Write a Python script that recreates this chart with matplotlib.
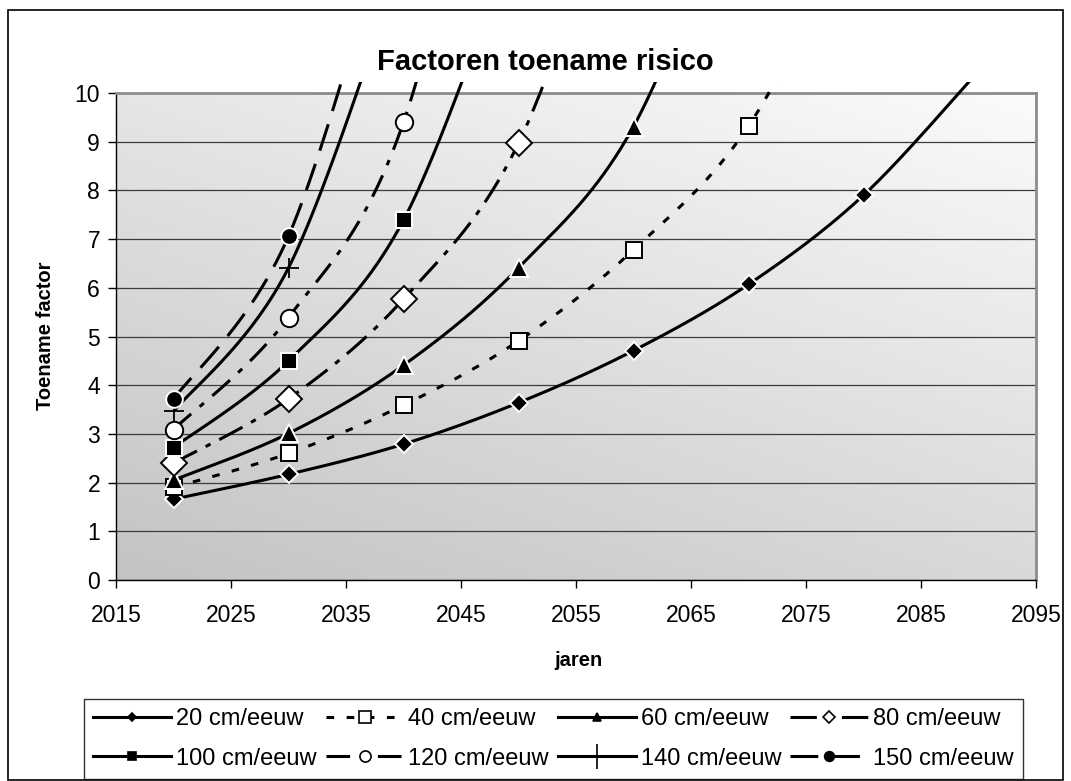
import matplotlib
matplotlib.use("Agg")
import matplotlib.pyplot as plt
import numpy as np
from matplotlib.lines import Line2D
from matplotlib.patches import Rectangle

plt.rcParams["font.family"] = ["Liberation Sans", "DejaVu Sans"]
plt.rcParams["lines.scale_dashes"] = False

# Toename factor per jaar, per zeespiegelstijging
jaren = [2020, 2030, 2040, 2050, 2060, 2070, 2080, 2090]
f20 = [1.66, 2.17, 2.79, 3.64, 4.71, 6.07, 7.90, 10.45]
f40 = [1.90, 2.60, 3.59, 4.91, 6.78, 9.32, 13.8]
f60 = [2.05, 3.01, 4.41, 6.41, 9.31, 15.0]
f80 = [2.40, 3.72, 5.77, 8.97, 15.5]
f100 = [2.72, 4.50, 7.39, 13.4]
f120 = [3.09, 5.39, 9.40, 19.0]
f140 = [3.46, 6.41, 12.8]
f150 = [3.71, 7.06, 14.6]
labels = ["20 cm/eeuw", "40 cm/eeuw", "60 cm/eeuw", "80 cm/eeuw",
          "100 cm/eeuw", "120 cm/eeuw", "140 cm/eeuw", "150 cm/eeuw"]
series = [f20, f40, f60, f80, f100, f120, f140, f150]

# line style, marker, marker size, face, edge, legend marker size
styles = [
    ("-", "D", 9, "black", "white", 4.5),
    ((0, (5.5, 9)), "s", 11.5, "white", "black", 8.5),
    ("-", "^", 13, "black", "white", 6),
    ((0, (19, 7, 4, 7)), "D", 13.2, "white", "black", 6.5),
    ("-", "s", 11.5, "black", "white", 6),
    ((0, (17, 8, 4, 8)), "o", 12.5, "white", "black", 8),
    ("-", "+", 14, "black", "black", 18),
    ((0, (20, 10)), "o", 12, "black", "white", 7),
]


def smooth(xs, ys, n=40):
    # Bezier smoothing through the points (spreadsheet-style)
    p = np.column_stack([xs, ys]).astype(float)
    out = []
    for i in range(len(p) - 1):
        p0 = p[i - 1] if i > 0 else p[i]
        p1, p2 = p[i], p[i + 1]
        p3 = p[i + 2] if i + 2 < len(p) else p[i + 1]
        c1 = p1 + (p2 - p0) / 6
        c2 = p2 - (p3 - p1) / 6
        t = np.linspace(0, 1, n)[:, None]
        seg = (1 - t) ** 3 * p1 + 3 * (1 - t) ** 2 * t * c1 + 3 * (1 - t) * t ** 2 * c2 + t ** 3 * p2
        out.append(seg if i == 0 else seg[1:])
    return np.vstack(out)


W, H = 1071, 781
fig = plt.figure(figsize=(W / 100, H / 100), dpi=100)
ax = fig.add_axes([116 / W, 1 - 580 / H, (1036 - 116) / W, (580 - 93) / H])

# grey gradient plot area
gx, gy = np.meshgrid(np.linspace(0, 1, 200), np.linspace(0, 1, 200))
shade = 0.765 + 0.085 * gx + 0.135 * gy
ax.imshow(np.dstack([shade] * 3), extent=(0, 1, 0, 1), origin="lower",
          transform=ax.transAxes, aspect="auto", zorder=0, interpolation="bilinear")

clip = Rectangle((0, 0), 1, 1.023, transform=ax.transAxes)
handles = []
for vals, lab, (ls, mk, ms, fc, ec, lms) in zip(series, labels, styles):
    xs = jaren[:len(vals)]
    curve = smooth(xs, vals)
    ln, = ax.plot(curve[:, 0], curve[:, 1], color="black", lw=2.2, ls=ls,
                  zorder=3, solid_capstyle="butt", dash_capstyle="butt")
    ln.set_clip_path(clip)
    shown = [(x, v) for x, v in zip(xs, vals) if v <= 10]
    mx, my = zip(*shown)
    mew = 1.3 if mk == "+" else 1.4
    ax.plot(mx, my, ls="none", marker=mk, ms=ms, mfc=fc, mec=ec, mew=mew, zorder=4)
    handles.append(Line2D([], [], color="black", lw=2.2, ls=ls, marker=mk, ms=lms,
                          mfc=fc, mec="black", mew=1.2))

ax.set_xlim(2015, 2095)
ax.set_ylim(0, 10)
ax.set_xticks(range(2015, 2096, 10))
ax.set_yticks(range(0, 11))
ax.yaxis.grid(True, color="#3c3c3c", lw=0.9)
ax.set_axisbelow(True)
ax.tick_params(axis="both", direction="out", length=5.5, width=1, color="black", labelsize=16.5)
ax.tick_params(axis="y", pad=6)
ax.tick_params(axis="x", pad=12)
for side in ("top", "right"):
    ax.spines[side].set_color("#8c8c8c")
    ax.spines[side].set_linewidth(2)
for side in ("left", "bottom"):
    ax.spines[side].set_color("black")
    ax.spines[side].set_linewidth(1)

fig.text(545 / W, 1 - 70 / H, "Factoren toename risico", ha="center", va="baseline",
         fontsize=21, fontweight="bold")
fig.text(46 / W, 1 - 336 / H, "Toename factor", rotation=90, ha="center", va="center",
         fontsize=14.5, fontweight="bold")
fig.text(578 / W, 1 - 660 / H, "jaren", ha="center", va="center",
         fontsize=14.5, fontweight="bold")

# legend filled row by row: reorder for column-wise filling
order = [0, 4, 1, 5, 2, 6, 3, 7]
leg = fig.legend([handles[i] for i in order], [labels[i] for i in order], ncol=4,
                 loc="lower left", bbox_to_anchor=(84 / W, 1 - 779 / H, (1023 - 84) / W, 0.09),
                 mode="expand", borderaxespad=0, fancybox=False, edgecolor="black",
                 fontsize=17, handlelength=3.3, handletextpad=0.2, columnspacing=0.5,
                 labelspacing=0.74, borderpad=0.4, numpoints=1)
leg.get_frame().set_linewidth(1)

fig.patches.append(Rectangle((8 / W, 1 - 780 / H), (1063 - 8) / W, (780 - 10) / H,
                             transform=fig.transFigure, fill=False, edgecolor="black", lw=1.2))

fig.savefig("out.png", dpi=100)
